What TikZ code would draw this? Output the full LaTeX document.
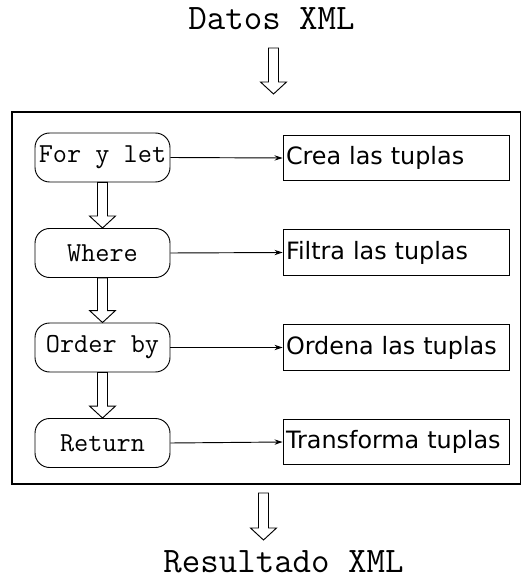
\documentclass[tikz,border=0pt]{standalone}
\usepackage{fontspec}
\setmainfont{DejaVu Sans}
\usetikzlibrary{arrows.meta,calc}

\tikzset{
  clause/.style={draw, rounded corners=11pt, minimum width=101.25pt, minimum height=36.75pt, inner sep=1pt, font=\ttfamily\fontsize{20.6}{21}\selectfont},
  task/.style={draw, minimum height=34pt, text width=165pt, inner sep=2.25pt, align=left, font=\fontsize{17.9}{18}\selectfont},
  io/.style={inner sep=0pt, font=\ttfamily\fontsize{26.9}{27}\selectfont},
  link/.style={-{Stealth[length=6pt,width=4pt]}},
  hollow/.style={to path={
    ($(\tikztostart)+(-5,0)$) -- ($(\tikztotarget)+(-5,-12)$)
    -- ($(\tikztotarget)+(-13,-12)$) -- (\tikztotarget)
    -- ($(\tikztotarget)+(13,-12)$) -- ($(\tikztotarget)+(5,-12)$)
    -- ($(\tikztostart)+(5,0)$) -- cycle}},
}

\begin{document}
\begin{tikzpicture}[x=0.75pt,y=0.75pt,yscale=-1,xscale=1,line width=0.7pt]
\useasboundingbox (0,0) rectangle (522,580);
\draw [line width=0.9pt] (12,112) rectangle (520.5,484) ;
\node [io, anchor=base] (datos) at (271.5,30) {Datos XML};
\node [io, anchor=base] (resultado) at (283.5,572) {Resultado XML};
\coordinate (in1) at (273.5,48);
\coordinate (in2) at (273.5,94);
\coordinate (out1) at (263.5,493);
\coordinate (out2) at (263.5,540);
\node [clause] (for) at (102.5,157.5) {For y let};
\node [clause] (where) at (102.5,253) {Where};
\node [clause] (order) at (102.5,347.5) {Order by};
\node [clause] (return) at (102.5,443) {Return};
\node [task] (crea) at (396,158) {Crea las tuplas};
\node [task] (filtra) at (396,252.5) {Filtra las tuplas};
\node [task] (ordena) at (396,347.5) {Ordena las tuplas};
\node [task] (transforma) at (396,442) {Transforma tuplas};
\draw [link] (for.east) -- (crea.west) ;
\draw [link] (where.east) -- (filtra.west) ;
\draw [link] (order.east) -- (ordena.west) ;
\draw [link] (return.east) -- (transforma.west) ;
\draw (in1) to[hollow] (in2) ;
\draw (for.south) to[hollow] (where.north) ;
\draw (where.south) to[hollow] (order.north) ;
\draw (order.south) to[hollow] (return.north) ;
\draw (out1) to[hollow] (out2) ;
\end{tikzpicture}
\end{document}
